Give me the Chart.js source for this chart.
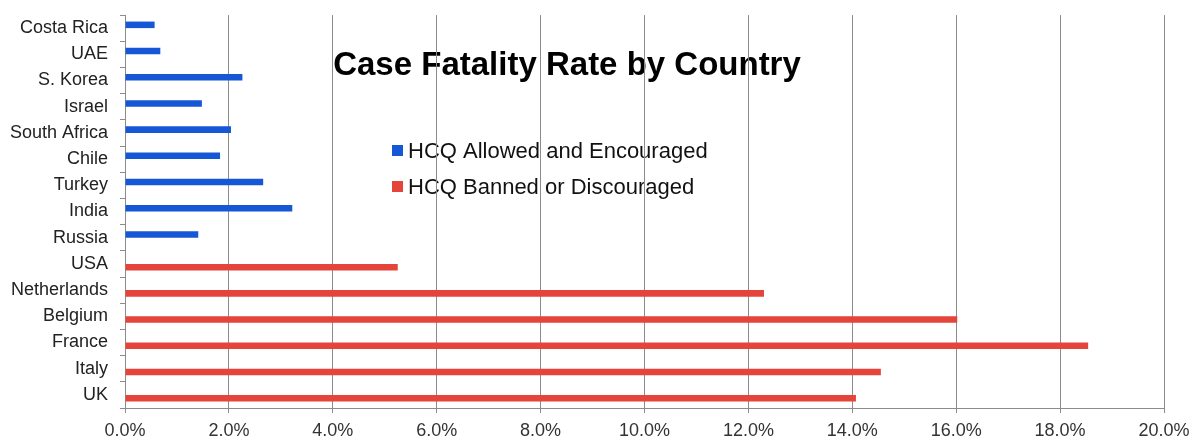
<!DOCTYPE html>
<html>
<head>
<meta charset="utf-8">
<script src="https://cdn.jsdelivr.net/npm/chart.js@4.4.1/dist/chart.umd.min.js"></script>
<style>
	html, body { margin: 0; padding: 0; background: #fff; }
	#wrap { width: 1192px; height: 438px; }
</style>
</head>
<body>
<div id="wrap"><canvas id="chart"></canvas></div>
<script>
const countries = [
	'Costa Rica', 'UAE', 'S. Korea', 'Israel', 'South Africa', 'Chile', 'Turkey', 'India', 'Russia',
	'USA', 'Netherlands', 'Belgium', 'France', 'Italy', 'UK',
];
// case fatality rate in percent, null where the country is in the other group
const allowedRates = [0.57, 0.68, 2.26, 1.48, 2.04, 1.83, 2.66, 3.22, 1.41, null, null, null, null, null, null];
const bannedRates = [null, null, null, null, null, null, null, null, null, 5.25, 12.3, 16.02, 18.54, 14.55, 14.07];
const seriesNames = ['HCQ Allowed and Encouraged', 'HCQ Banned or Discouraged'];
const titleText = 'Case Fatality Rate by Country';

const FONT = "'Liberation Sans', Arial, sans-serif";
const GRID = '#8c8c8c';

// title and legend sit inside the plot, grid lines run over them
const insideText = {
	id: 'insideText',
	beforeDraw(chart) {
		const ctx = chart.ctx;
		ctx.save();
		ctx.fillStyle = '#000';
		ctx.font = 'bold 33px ' + FONT;
		ctx.textAlign = 'center';
		ctx.textBaseline = 'alphabetic';
		ctx.fillText(titleText, 567, 75);

		ctx.font = '22px ' + FONT;
		ctx.textAlign = 'left';
		chart.data.datasets.forEach((ds, i) => {
			const base = 158 + i * 36;
			ctx.fillStyle = ds.backgroundColor;
			ctx.fillRect(392, base - 13, 11, 11);
			ctx.fillStyle = '#111';
			ctx.fillText(ds.label, 408, base);
		});
		ctx.restore();
	},
};

new Chart(document.getElementById('chart'), {
	type: 'bar',
	data: {
		labels: countries,
		datasets: [
			{
				label: seriesNames[0],
				data: allowedRates,
				backgroundColor: '#1657d6',
			},
			{
				label: seriesNames[1],
				data: bannedRates,
				backgroundColor: '#e5443a',
			},
		],
	},
	options: {
		indexAxis: 'y',
		responsive: true,
		maintainAspectRatio: false,
		animation: false,
		categoryPercentage: 0.5,
		barPercentage: 1,
		layout: { padding: { top: 15, right: 28, left: 0, bottom: 0 } },
		plugins: {
			legend: { display: false },
			title: { display: false },
			tooltip: { enabled: false },
		},
		scales: {
			x: {
				min: 0,
				max: 20,
				ticks: {
					stepSize: 2,
					color: '#333',
					font: { family: FONT, size: 18 },
					padding: 7,
					callback: v => v.toFixed(1) + '%',
				},
				grid: { color: GRID, tickLength: 5, tickColor: GRID },
				border: { color: GRID },
				afterFit: scale => {
					scale.height = 30;
					scale.paddingLeft = 0;
					scale.paddingRight = 0;
				},
			},
			y: {
				ticks: {
					color: '#222',
					font: { family: FONT, size: 18 },
					padding: 12,
				},
				grid: { drawOnChartArea: false, offset: true, tickLength: 5, tickColor: GRID },
				border: { color: GRID },
				afterFit: scale => {
					scale.width = 125;
					scale.paddingTop = 0;
					scale.paddingBottom = 0;
				},
			},
		},
	},
	plugins: [insideText],
});
</script>
</body>
</html>
